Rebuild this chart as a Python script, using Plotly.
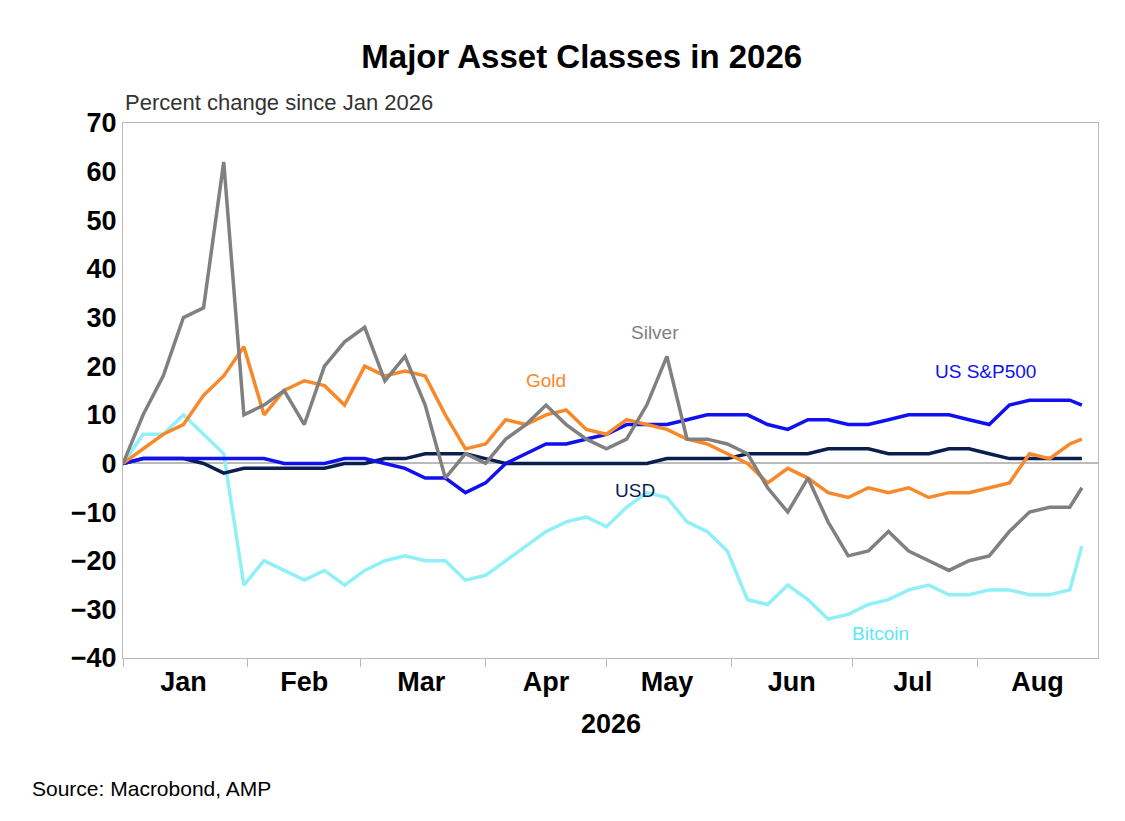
import plotly.graph_objects as go
import pandas as pd

dates = list(pd.date_range("2026-01-01", periods=48, freq="5D")) + [pd.Timestamp("2026-08-27")]
silver = [0,10,18,30,32,62,10,12,15,8,20,25,28,17,22,12,-3,2,0,5,8,12,8,5,3,5,12,22,5,5,4,2,-5,-10,-3,-12,-19,-18,-14,-18,-20,-22,-20,-19,-14,-10,-9,-9,-5]
gold = [0,3,6,8,14,18,24,10,15,17,16,12,20,18,19,18,10,3,4,9,8,10,11,7,6,9,8,7,5,4,2,0,-4,-1,-3,-6,-7,-5,-6,-5,-7,-6,-6,-5,-4,2,1,4,5]
spx = [0,1,1,1,1,1,1,1,0,0,0,1,1,0,-1,-3,-3,-6,-4,0,2,4,4,5,6,8,8,8,9,10,10,10,8,7,9,9,8,8,9,10,10,10,9,8,12,13,13,13,12]
usd = [0,1,1,1,0,-2,-1,-1,-1,-1,-1,0,0,1,1,2,2,2,1,0,0,0,0,0,0,0,0,1,1,1,1,2,2,2,2,3,3,3,2,2,2,3,3,2,1,1,1,1,1]
btc = [0,6,6,10,6,2,-25,-20,-22,-24,-22,-25,-22,-20,-19,-20,-20,-24,-23,-20,-17,-14,-12,-11,-13,-9,-6,-7,-12,-14,-18,-28,-29,-25,-28,-32,-31,-29,-28,-26,-25,-27,-27,-26,-26,-27,-27,-26,-17]

month_mid = ["2026-01-16","2026-02-15","2026-03-16","2026-04-16","2026-05-16","2026-06-16","2026-07-16","2026-08-16"]
month_lbl = ["Jan","Feb","Mar","Apr","May","Jun","Jul","Aug"]
month_start = ["2026-01-01","2026-02-01","2026-03-01","2026-04-01","2026-05-01","2026-06-01","2026-07-01","2026-08-01"]

fig = go.Figure()
for y, c in [(btc,"#8FF0F8"),(usd,"#0B1F4F"),(spx,"#1010F0"),(gold,"#F7892A"),(silver,"#808080")]:
    fig.add_trace(go.Scatter(x=dates, y=y, mode="lines", line=dict(color=c, width=3.5), showlegend=False))

fig.update_layout(
    width=1125, height=821, paper_bgcolor="white", plot_bgcolor="white",
    margin=dict(l=115, r=35, t=115, b=171),
    font=dict(family="Liberation Sans, Arial", color="black"),
    title=dict(text="<b>Major Asset Classes in 2026</b>", x=0.51, xanchor="center", y=0.955, font=dict(size=33)),
)
fig.update_xaxes(range=["2026-01-01","2026-08-31"], tickvals=month_mid, ticktext=month_lbl,
                 ticks="", tickfont=dict(size=27, family="Liberation Sans", weight="bold"),
                 showgrid=False, showline=True, linecolor="#bbbbbb", mirror=True,
                 minor=dict(tickvals=month_start, ticks="outside", ticklen=8, tickcolor="#bbbbbb"))
fig.update_yaxes(range=[-40,70], dtick=10, tickfont=dict(size=27, family="Liberation Sans", weight="bold"),
                 showgrid=False, showline=True, linecolor="#bbbbbb", mirror=True, ticks="",
                 zeroline=True, zerolinecolor="#bbbbbb", zerolinewidth=1.5)

anns = [
    dict(x=0, y=1.065, xref="paper", yref="paper", text="Percent change since Jan 2026", xanchor="left", font=dict(size=22, color="#333")),
    dict(x=0.5, y=-0.155, xref="paper", yref="paper", text="<b>2026</b>", font=dict(size=27)),
    dict(x=-0.095, y=-0.27, xref="paper", yref="paper", text="Source: Macrobond, AMP", xanchor="left", font=dict(size=21, family="Liberation Sans Narrow, Liberation Sans")),
    dict(x="2026-05-13", y=27, text="Silver", font=dict(size=19, color="#808080")),
    dict(x="2026-04-16", y=17, text="Gold", font=dict(size=19, color="#F7892A")),
    dict(x="2026-08-03", y=19, text="US S&P500", font=dict(size=19, color="#1010F0")),
    dict(x="2026-05-08", y=-5.5, text="USD", font=dict(size=19, color="#0B1F4F")),
    dict(x="2026-07-08", y=-35, text="Bitcoin", font=dict(size=19, color="#5DE8F5")),
]
for a in anns:
    a.setdefault("showarrow", False)
    fig.add_annotation(**a)

fig.write_html("out.html")
